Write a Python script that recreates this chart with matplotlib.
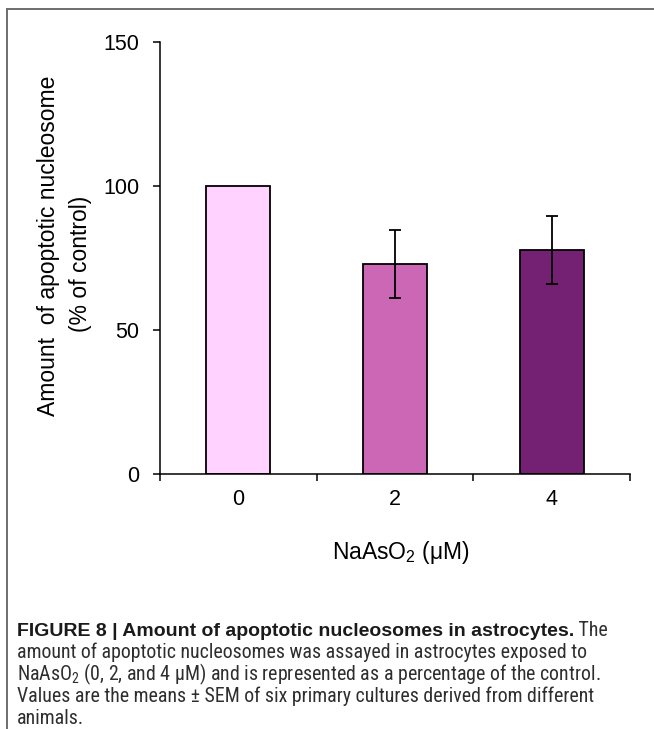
import matplotlib
matplotlib.use("Agg")
import matplotlib.pyplot as plt
from matplotlib.lines import Line2D

plt.rcParams["font.family"] = ["Liberation Sans", "DejaVu Sans"]
plt.rcParams["mathtext.default"] = "regular"

# Data
doses = ["0", "2", "4"]
means = [100.0, 72.9, 77.8]
sems = [0.0, 11.9, 11.8]
bar_colors = ["#FFD2FF", "#CB67B4", "#742073"]

caption_bold = "FIGURE 8 | Amount of apoptotic nucleosomes in astrocytes."
caption_lines = [
    "amount of apoptotic nucleosomes was assayed in astrocytes exposed to",
    "NaAsO$_2$ (0, 2, and 4 \u03bcM) and is represented as a percentage of the control.",
    "Values are the means \u00b1 SEM of six primary cultures derived from different",
    "animals.",
]

W, H = 654, 729
fig = plt.figure(figsize=(W / 100, H / 100), dpi=100)

# axes box in pixel units
x0, x1 = 160, 630
y0, y1 = 474, 42
ax = fig.add_axes([x0 / W, 1 - y0 / H, (x1 - x0) / W, (y0 - y1) / H])

pos = list(range(len(doses)))
ax.bar(pos, means, width=0.41, color=bar_colors, edgecolor="black",
       linewidth=1.3, zorder=2)
for p, m, s in zip(pos, means, sems):
    if s > 0:
        ax.errorbar(p, m, yerr=s, fmt="none", ecolor="black", elinewidth=1.3,
                    capsize=4.5, capthick=1.3, zorder=3)

ax.set_xlim(-0.5, 2.5)
ax.set_ylim(0, 150)
ax.set_yticks([0, 50, 100, 150])
ax.tick_params(axis="y", direction="out", length=5, width=1.1,
               labelsize=15.5, pad=10)

# ticks at the category boundaries, labels at the centres
ax.set_xticks([-0.5, 0.5, 1.5, 2.5])
ax.set_xticklabels([])
ax.tick_params(axis="x", which="major", direction="out", length=5, width=1.1)
ax.set_xticks(pos, minor=True)
ax.set_xticklabels(doses, minor=True)
ax.tick_params(axis="x", which="minor", length=0, labelsize=15.5, pad=11)

for side in ["top", "right"]:
    ax.spines[side].set_visible(False)
for side in ["left", "bottom"]:
    ax.spines[side].set_linewidth(1.1)

# y label in two lines
fig.text(49 / W, 1 - 246 / H, "Amount  of apoptotic nucleosome", rotation=90,
         ha="center", va="center", fontsize=16.5)
fig.text(81 / W, 1 - 264 / H, "(% of control)", rotation=90,
         ha="center", va="center", fontsize=16.5)

fig.text(401 / W, 1 - 553 / H, "NaAsO$_2$ (\u03bcM)", ha="center", va="center",
         fontsize=16.5)

# frame around the figure panel
fig.add_artist(Line2D([7 / W, 1.0], [1 - 9 / H, 1 - 9 / H], color="#6e6e6e",
                      linewidth=1.4, transform=fig.transFigure))
fig.add_artist(Line2D([7 / W, 7 / W], [1 - 9 / H, 0.0], color="#6e6e6e",
                      linewidth=1.4, transform=fig.transFigure))

# caption
cap_font = ["Roboto Condensed", "Archivo Narrow", "Liberation Sans"]
cap_color = "#2e2e2e"
cap_size = 14.3
baselines = [636, 658, 680, 702, 724]
t1 = fig.text(17 / W, 1 - baselines[0] / H, caption_bold,
              family=["Liberation Sans", "DejaVu Sans"], fontsize=14,
              fontweight="bold", color="#1a1a1a", va="baseline")
ax.annotate(" The", xy=(1, 0), xycoords=t1, va="bottom", ha="left",
            family=cap_font, fontsize=cap_size, color=cap_color,
            annotation_clip=False)
for yb, line in zip(baselines[1:], caption_lines):
    fig.text(17 / W, 1 - yb / H, line, family=cap_font, fontsize=cap_size,
             color=cap_color, va="baseline")

fig.savefig("out.png", dpi=100)
